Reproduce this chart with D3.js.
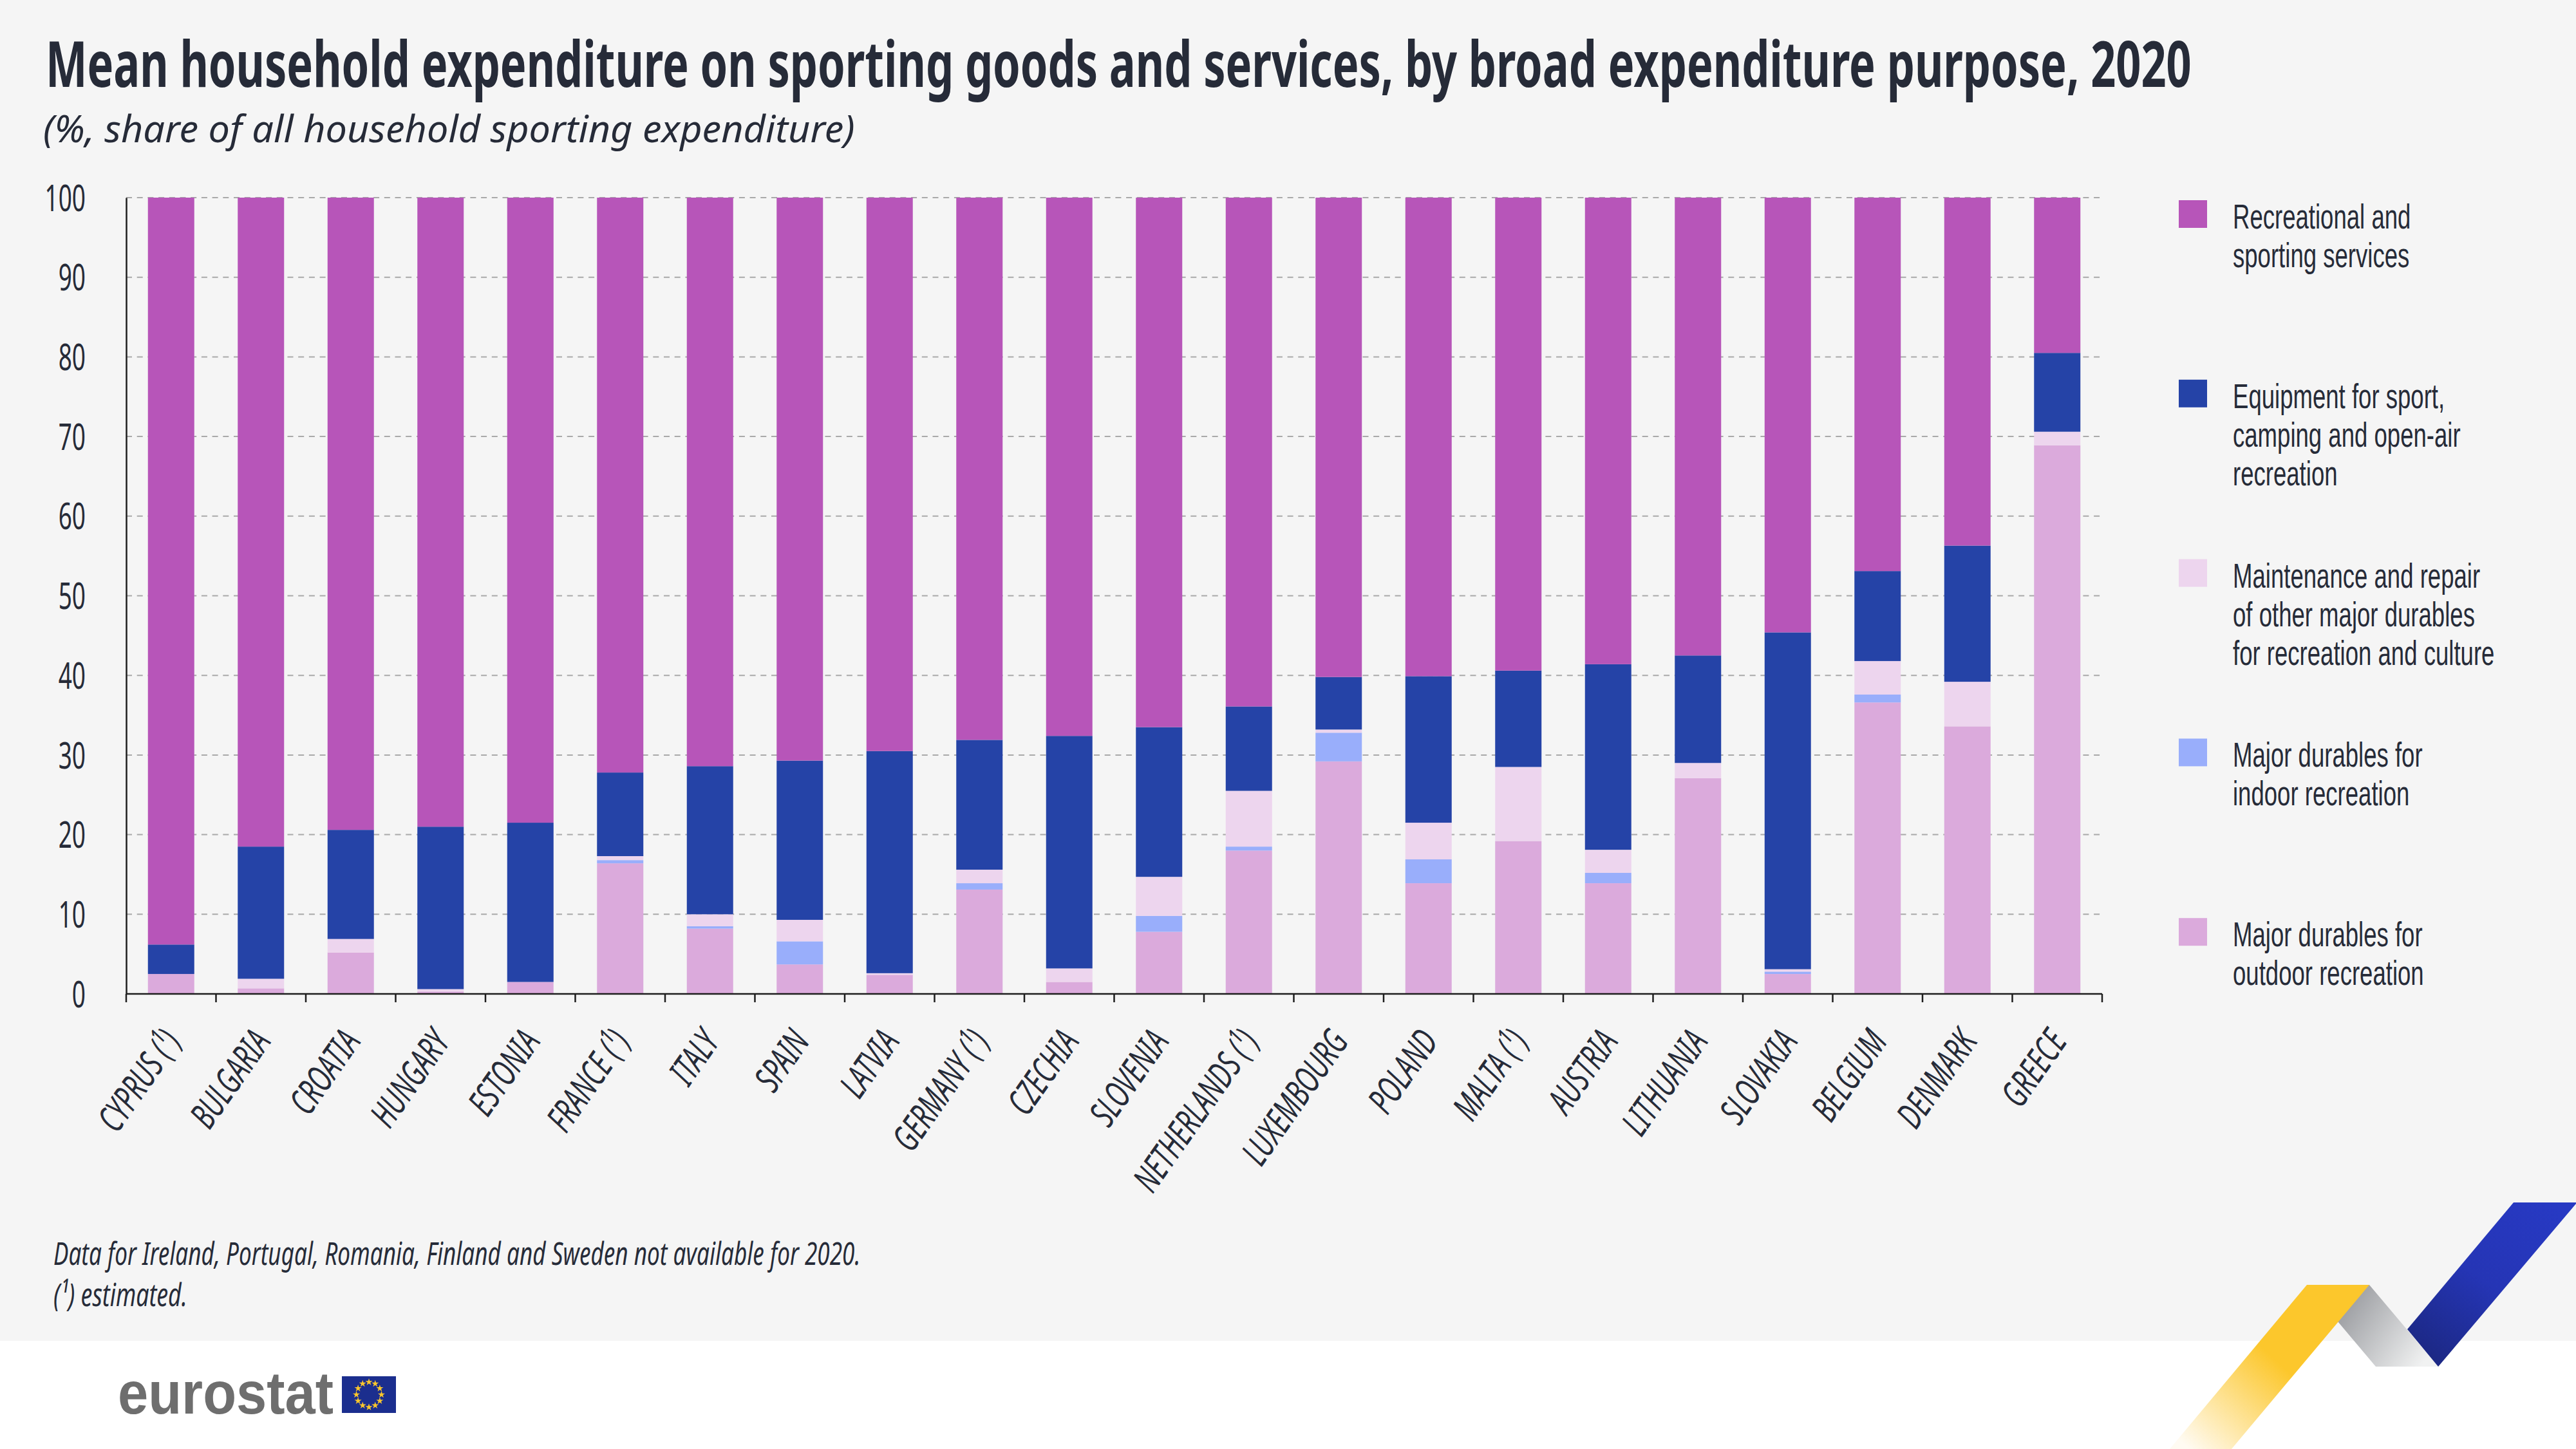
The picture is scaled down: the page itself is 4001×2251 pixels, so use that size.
<!DOCTYPE html>
<html>
<head>
<meta charset="utf-8">
<script src="https://cdn.jsdelivr.net/npm/d3@7"></script>
<style>
  body { margin: 0; background: #fff; }
  svg { display: block; font-family: "Noto Sans", "Open Sans", sans-serif; }
</style>
</head>
<body>
<div id="chart"></div>
<script>
// canvas and plot area
var W = 4001, H = 2251;
var margin = {top: 307, right: 736, bottom: 707, left: 196},
    width = W - margin.left - margin.right,
    height = H - margin.top - margin.bottom;

var textColor = "#262b38";

// data (% of household sporting expenditure)
var countries = ["CYPRUS (¹)", "BULGARIA", "CROATIA", "HUNGARY", "ESTONIA", "FRANCE (¹)", "ITALY", "SPAIN",
  "LATVIA", "GERMANY (¹)", "CZECHIA", "SLOVENIA", "NETHERLANDS (¹)", "LUXEMBOURG", "POLAND", "MALTA (¹)",
  "AUSTRIA", "LITHUANIA", "SLOVAKIA", "BELGIUM", "DENMARK", "GREECE"];
var outdoor     = [2.5, 0.7, 5.2, 0.3, 1.5, 16.4, 8.2, 3.7, 2.4, 13.1, 1.5, 7.8, 18.0, 29.2, 13.9, 19.2, 13.9, 27.1, 2.5, 36.6, 33.6, 68.9];
var indoor      = [0, 0, 0, 0, 0, 0.4, 0.3, 2.9, 0, 0.8, 0, 2.0, 0.5, 3.6, 3.0, 0, 1.3, 0, 0.3, 1.0, 0, 0];
var maintenance = [0, 1.2, 1.7, 0.3, 0, 0.5, 1.5, 2.7, 0.2, 1.7, 1.7, 4.9, 7.0, 0.4, 4.6, 9.3, 2.9, 1.9, 0.3, 4.2, 5.6, 1.7];
var equipment   = [3.7, 16.6, 13.7, 20.4, 20.0, 10.5, 18.6, 20.0, 27.9, 16.3, 29.2, 18.8, 10.6, 6.6, 18.4, 12.1, 23.3, 13.5, 42.3, 11.3, 17.1, 9.9];
var services    = [93.8, 81.5, 79.4, 79.0, 78.5, 72.2, 71.4, 70.7, 69.5, 68.1, 67.6, 66.5, 63.9, 60.2, 60.1, 59.4, 58.6, 57.5, 54.6, 46.9, 43.7, 19.5];

var yTicks = [0, 10, 20, 30, 40, 50, 60, 70, 80, 90, 100];

// series, bottom of the stack first
var keys = ["outdoor", "indoor", "maintenance", "equipment", "services"];
var colors = {
  services: "#b755b9",
  equipment: "#2543a7",
  maintenance: "#edd5ee",
  indoor: "#99aefb",
  outdoor: "#dbaadc"
};
var legendLabels = {
  services: ["Recreational and", "sporting services"],
  equipment: ["Equipment for sport,", "camping and open-air", "recreation"],
  maintenance: ["Maintenance and repair", "of other major durables", "for recreation and culture"],
  indoor: ["Major durables for", "indoor recreation"],
  outdoor: ["Major durables for", "outdoor recreation"]
};
var legendOrder = ["services", "equipment", "maintenance", "indoor", "outdoor"];

var rows = countries.map(function(c, i) {
  return {country: c, outdoor: outdoor[i], indoor: indoor[i], maintenance: maintenance[i],
          equipment: equipment[i], services: services[i]};
});

var svg = d3.select("#chart").append("svg")
  .attr("width", W)
  .attr("height", H);

// squeeze a one-line text horizontally so that it spans w pixels
function fitText(x0, y0, w, size, style, weight, str) {
  var t = svg.append("text")
    .attr("font-size", size)
    .attr("font-style", style)
    .attr("font-weight", weight)
    .attr("fill", textColor)
    .text(str);
  var n = t.node().getComputedTextLength();
  t.attr("transform", "translate(" + x0 + "," + y0 + ") scale(" + (w / n) + ",1)");
  return t;
}

// grey panel
svg.append("rect").attr("width", W).attr("height", 2083).attr("fill", "#f5f5f5");

// title + subtitle
fitText(71, 135, 3333, 98, "normal", "bold",
  "Mean household expenditure on sporting goods and services, by broad expenditure purpose, 2020");
fitText(67, 221, 1261, 58, "italic", "normal", "(%, share of all household sporting expenditure)");

var g = svg.append("g")
  .attr("transform", "translate(" + margin.left + "," + margin.top + ")");

var x = d3.scaleBand()
  .domain(countries)
  .range([0, width])
  .paddingInner(0.484)
  .paddingOuter(0.242);

var y = d3.scaleLinear()
  .domain([0, 100])
  .range([height, 0]);

// dashed gridlines
g.append("g").selectAll("line")
  .data(yTicks.filter(function(t) { return t > 0; }))
  .enter().append("line")
  .attr("x1", 0).attr("x2", width)
  .attr("y1", function(d) { return y(d); })
  .attr("y2", function(d) { return y(d); })
  .attr("stroke", "#a9a9a9")
  .attr("stroke-width", 2)
  .attr("stroke-dasharray", "9,7.7");

// stacked bars
var stacked = d3.stack().keys(keys)(rows);
g.append("g").selectAll("g")
  .data(stacked)
  .enter().append("g")
  .attr("fill", function(d) { return colors[d.key]; })
  .selectAll("rect")
  .data(function(d) { return d; })
  .enter().append("rect")
  .attr("x", function(d) { return x(d.data.country); })
  .attr("y", function(d) { return y(d[1]); })
  .attr("width", x.bandwidth())
  .attr("height", function(d) { return y(d[0]) - y(d[1]); });

// y axis
var yAxis = g.append("g")
  .call(d3.axisLeft(y).tickValues(yTicks).tickSize(0).tickPadding(0));
yAxis.select(".domain").attr("stroke", "#1e1e1e").attr("stroke-width", 2.5);
yAxis.selectAll("text")
  .attr("x", 0).attr("dy", "0.36em")
  .attr("font-size", 56)
  .attr("font-family", "Noto Sans, sans-serif")
  .attr("fill", textColor)
  .attr("text-anchor", "end")
  .attr("transform", "translate(-63,0) scale(0.66,1)");

// x axis: baseline with ticks at the band edges
var xAxis = g.append("g").attr("transform", "translate(0," + height + ")");
xAxis.append("line")
  .attr("x1", 0).attr("x2", width)
  .attr("stroke", "#1e1e1e").attr("stroke-width", 2.5);
xAxis.selectAll(".edge")
  .data(d3.range(countries.length + 1))
  .enter().append("line")
  .attr("class", "edge")
  .attr("x1", function(i) { return i * x.step(); })
  .attr("x2", function(i) { return i * x.step(); })
  .attr("y1", 0).attr("y2", 13)
  .attr("stroke", "#1e1e1e").attr("stroke-width", 2.5);

xAxis.selectAll(".lbl")
  .data(countries)
  .enter().append("g")
  .attr("class", "lbl")
  .attr("transform", function(d) {
    return "translate(" + (x(d) + x.bandwidth() / 2 + 17) + ",74) rotate(-55) scale(0.67,1)";
  })
  .append("text")
  .attr("text-anchor", "end")
  .attr("font-size", 57)
  .attr("font-style", "italic")
  .attr("fill", textColor)
  .text(function(d) { return d; });

// legend
var legend = svg.append("g").selectAll("g")
  .data(legendOrder)
  .enter().append("g")
  .attr("transform", function(d, i) { return "translate(3384," + (311 + i * 278.8) + ")"; });
legend.append("rect")
  .attr("width", 44).attr("height", 43)
  .attr("fill", function(d) { return colors[d]; });
legend.append("g")
  .attr("transform", "translate(84,44) scale(0.69,1)")
  .append("text")
  .attr("font-family", "Liberation Sans, Arial, sans-serif")
  .attr("font-size", 53)
  .attr("fill", textColor)
  .selectAll("tspan")
  .data(function(d) { return legendLabels[d]; })
  .enter().append("tspan")
  .attr("x", 0)
  .attr("dy", function(d, i) { return i === 0 ? 0 : 60; })
  .text(function(d) { return d; });

// footnotes
fitText(83, 1965, 1254, 50, "italic", "normal",
  "Data for Ireland, Portugal, Romania, Finland and Sweden not available for 2020.");
fitText(83, 2029, 208, 50, "italic", "normal", "(¹) estimated.");

// eurostat logo
svg.append("text")
  .attr("x", 183).attr("y", 2196)
  .attr("font-family", "Liberation Sans, Arial, sans-serif")
  .attr("font-size", 92).attr("font-weight", "bold")
  .attr("fill", "#6e6e6e")
  .attr("textLength", 335).attr("lengthAdjust", "spacingAndGlyphs")
  .text("eurostat");
svg.append("rect")
  .attr("x", 531).attr("y", 2138).attr("width", 84).attr("height", 57)
  .attr("fill", "#1b2e8e");
svg.append("g").selectAll("path")
  .data(d3.range(12))
  .enter().append("path")
  .attr("d", d3.symbol(d3.symbolStar).size(38))
  .attr("fill", "#fcc72c")
  .attr("transform", function(i) {
    var a = i * Math.PI / 6;
    return "translate(" + (573 + 19.5 * Math.sin(a)) + "," + (2166.5 - 19.5 * Math.cos(a)) + ")";
  });

// corner ribbon
var defs = svg.append("defs");
function grad(id, x1, y1, x2, y2, stops) {
  var lg = defs.append("linearGradient").attr("id", id)
    .attr("gradientUnits", "userSpaceOnUse")
    .attr("x1", x1).attr("y1", y1).attr("x2", x2).attr("y2", y2);
  stops.forEach(function(s) {
    lg.append("stop").attr("offset", s[0]).attr("stop-color", s[1]);
  });
}
grad("gGrey", 3610, 2020, 3760, 2123, [[0, "#8c8e93"], [1, "#f1f2f2"]]);
grad("gYellow", 3640, 1996, 3400, 2251, [[0, "#fcc72c"], [0.45, "#fcc72c"], [1, "#fffbf2"]]);
grad("gBlue", 3960, 1868, 3770, 2123, [[0, "#2739c3"], [0.5, "#2535b5"], [1, "#1b2780"]]);

svg.append("polygon")
  .attr("points", "3583,1996 3680,1996 3787,2123 3690,2123")
  .attr("fill", "url(#gGrey)");
svg.append("polygon")
  .attr("points", "3583,1996 3680,1996 3466,2251 3370,2251")
  .attr("fill", "url(#gYellow)");
svg.append("polygon")
  .attr("points", "3904,1868 4001,1868 4001,1870 3787,2123 3739,2065")
  .attr("fill", "url(#gBlue)");
</script>
</body>
</html>
